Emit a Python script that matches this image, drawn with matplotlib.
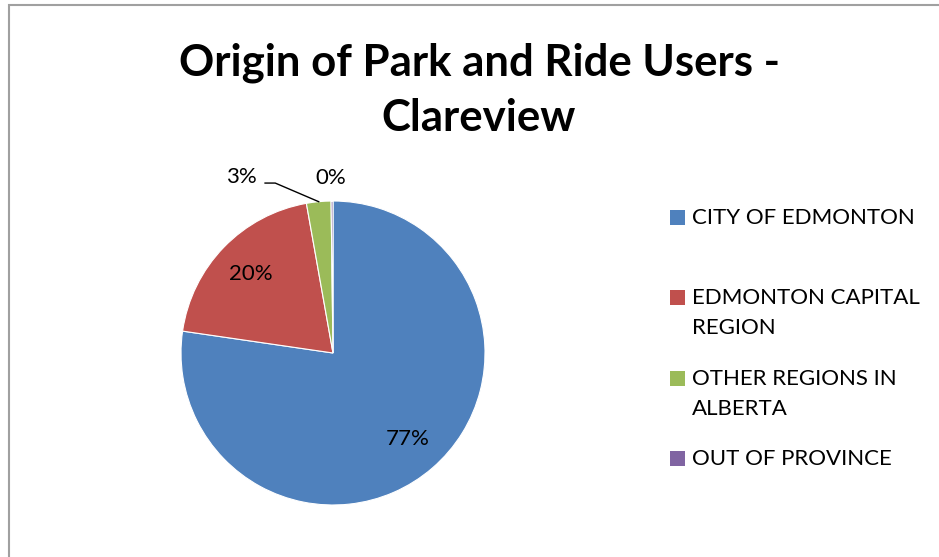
import numpy as np
import matplotlib.pyplot as plt
from matplotlib.patches import Rectangle

# data
categories = ['CITY OF EDMONTON', 'EDMONTON CAPITAL\nREGION', 'OTHER REGIONS IN\nALBERTA', 'OUT OF PROVINCE']
shares = [77.3, 19.9, 2.6, 0.2]
colors = ['#4F81BD', '#C0504D', '#9BBB59', '#8064A2']
title = 'Origin of Park and Ride Users -\nClareview'

plt.rcParams['font.family'] = ['Lato', 'DejaVu Sans']

W, H = 939, 557
fig = plt.figure(figsize=(W / 100, H / 100), dpi=100)

# chart frame (runs off right and bottom edges)
fig.patches.append(Rectangle((9 / W, -0.1), 1.1, (H - 5) / H + 0.1, transform=fig.transFigure,
                             fill=False, edgecolor='#A0A0A0', linewidth=1.5))

fig.text(479 / W, 1 - 90 / H, title, ha='center', va='center', fontsize=31.5,
         fontweight='bold', linespacing=1.45)

# pie axes: centre (333, 353), radius 152 px
cx, cy, r = 333, 353, 152
ax = fig.add_axes([(cx - r) / W, (H - cy - r) / H, 2 * r / W, 2 * r / H])
wedges, _ = ax.pie(shares, colors=colors, startangle=90, counterclock=False,
                   wedgeprops=dict(edgecolor='white', linewidth=0.8))
ax.set_xlim(-1, 1)
ax.set_ylim(-1, 1)
ax.set_aspect('equal')

labels = ['%.0f%%' % v for v in shares]
# inside labels
for w, lab in zip(wedges[:2], labels[:2]):
    ang = np.deg2rad((w.theta1 + w.theta2) / 2)
    ax.text(0.75 * np.cos(ang), 0.75 * np.sin(ang), lab, ha='center', va='center', fontsize=16)

# outside labels for small slices
ang = np.deg2rad((wedges[2].theta1 + wedges[2].theta2) / 2)
p0 = (np.cos(ang), np.sin(ang))
ax.plot([p0[0], -0.38, -0.447], [p0[1], 1.118, 1.118], color='black', lw=1, clip_on=False)
ax.text(-0.6, 1.16, labels[2], ha='center', va='center', fontsize=16)
ax.text(-0.013, 1.15, labels[3], ha='center', va='center', fontsize=16)

# legend
ys = [217, 297, 378, 458]
for y, c, lab in zip(ys, colors, categories):
    fig.patches.append(Rectangle((670 / W, 1 - (y + 7.5) / H), 15 / W, 15 / H,
                                 transform=fig.transFigure, facecolor=c, edgecolor='none'))
    fig.text(692 / W, 1 - (y - 9) / H, lab, ha='left', va='top', fontsize=16, linespacing=1.65)

fig.savefig('out.png', dpi=100)
